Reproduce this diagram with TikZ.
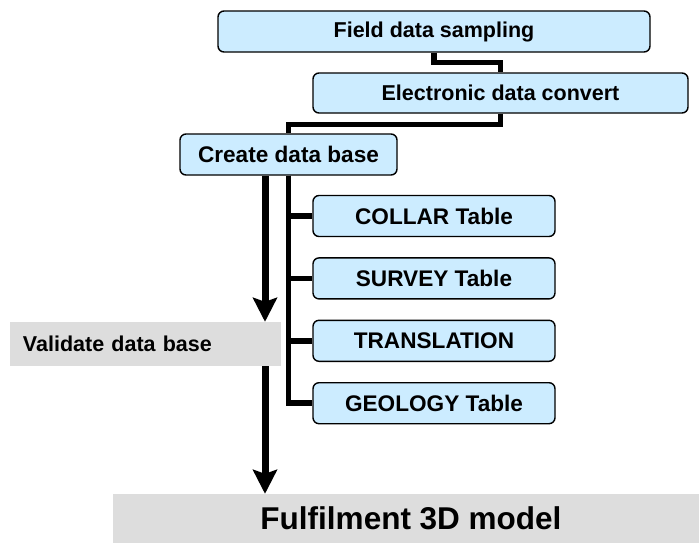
\documentclass[tikz,border=0pt]{standalone}
\usepackage{fontspec}
\setmainfont{Liberation Sans}
\usetikzlibrary{arrows.meta,positioning}
\definecolor{boxblue}{HTML}{CCECFF}
\definecolor{boxgray}{HTML}{DDDDDD}
\tikzset{stage/.style={draw,line width=1.4pt,rounded corners=6pt,fill=boxblue,minimum height=41pt,inner sep=0pt,font=\fontsize{21.5}{25}\selectfont\bfseries},tablebox/.style={stage,minimum width=242pt,font=\fontsize{22.6}{26}\selectfont\bfseries},band/.style={fill=boxgray,inner sep=0pt,font=\fontsize{21.5}{25}\selectfont\bfseries},link/.style={line width=5.5pt},arrow/.style={line width=7pt,-{Stealth[length=24pt,width=24pt,inset=4pt]}}}
\begin{document}
\begin{tikzpicture}[x=1pt,y=-1pt,node distance=20pt]
\useasboundingbox (0,0) rectangle (699,542);
\clip (0,0) rectangle (699,542);
\node[stage,minimum width=432pt] (field) at (434,31.5) {Field data sampling};
\node[stage,minimum width=375pt,minimum height=40pt] (convert) at (500.5,93) {Electronic data convert};
\node[stage,minimum width=217pt,font=\fontsize{22.6}{26}\selectfont\bfseries] (create) at (288.5,154.5) {Create data base};
\node[tablebox] (collar) at (434,216) {COLLAR Table};
\node[tablebox,below=of collar] (survey) {SURVEY Table};
\node[tablebox,below=of survey] (transl) {TRANSLATION};
\node[tablebox,below=of transl] (geology) {GEOLOGY Table};
\node[band,text width=245pt,inner xsep=13pt,minimum height=44pt,align=left] (validate) at (145.5,344) {Validate data base};
\node[band,minimum width=596pt,minimum height=49pt,font=\fontsize{31.5}{36}\selectfont\bfseries] (model) at (411,518.5) {Fulfilment 3D model};
\draw[link] (field.south) -- ++(0,10) -| (convert.north);
\draw[link] (convert.south) -- ++(0,11) -| (create.north);
\foreach \t in {collar,survey,transl,geology} \draw[link] (create.south) |- (\t.west);
\draw[arrow] ([xshift=-23.5pt]create.south) coordinate (tap) -- (tap |- validate.north);
\draw[arrow] (tap |- validate.south) -- (tap |- model.north);
\end{tikzpicture}
\end{document}
